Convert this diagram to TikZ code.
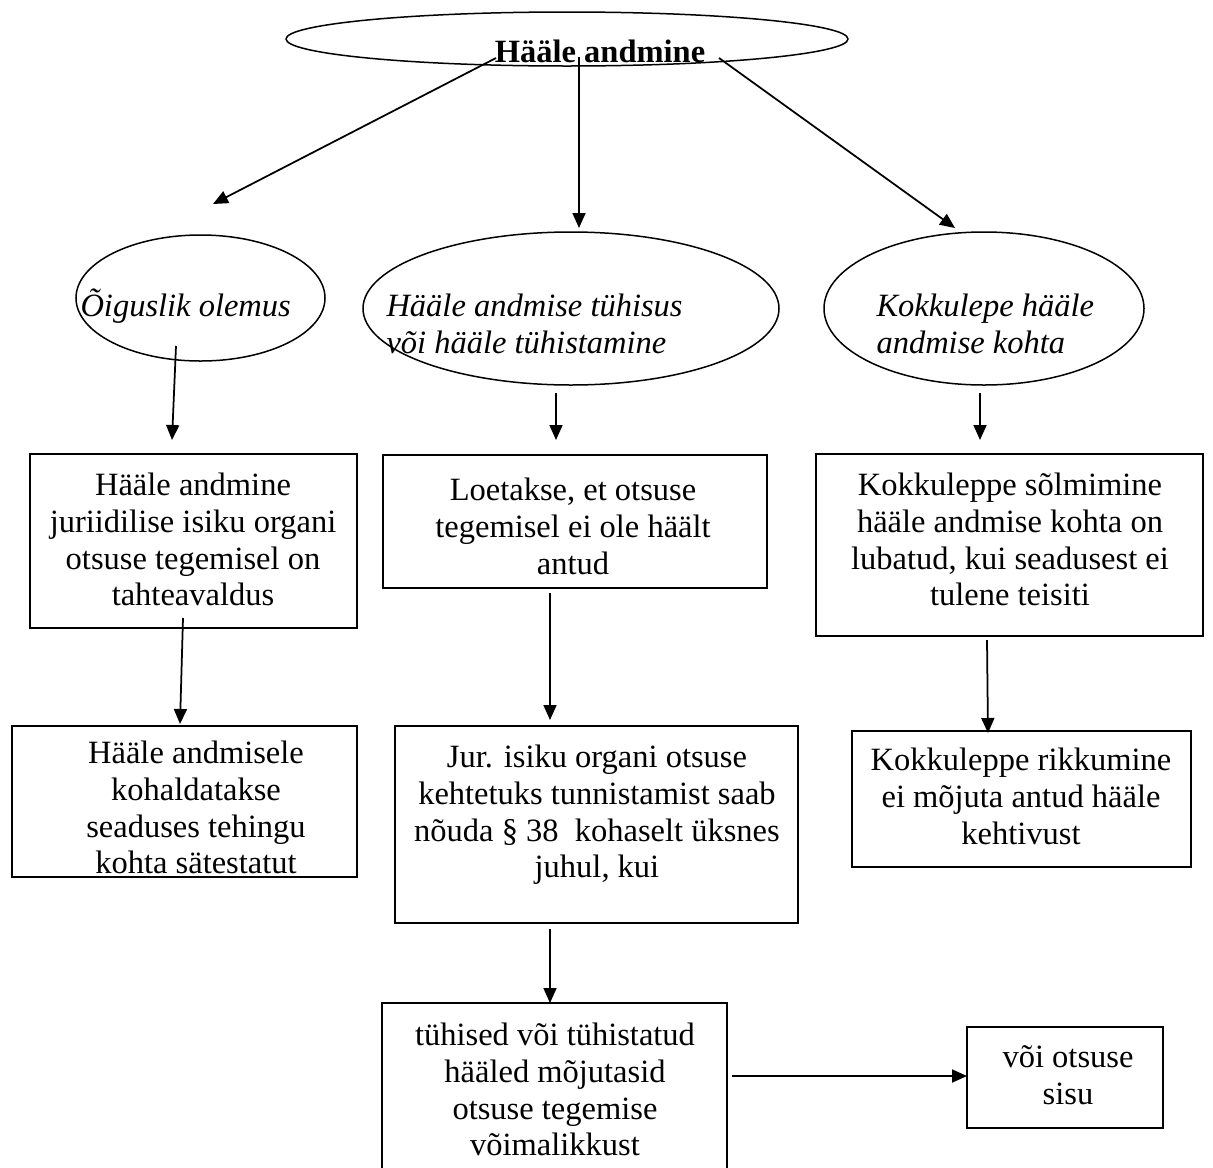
\documentclass[tikz,border=0pt]{standalone}
\usepackage{fontspec}
\setmainfont{Liberation Serif}
\usetikzlibrary{arrows.meta,shapes.geometric,calc}
% tall invisible rule so the first line of every label has a fixed height
\newcommand\firstline{\rule{0pt}{12pt}}

\begin{document}
\begin{tikzpicture}[x=0.4pt,y=-0.4pt,
  oval/.style={draw,ellipse,line width=0.6pt,inner sep=0pt},
  box/.style={draw,rectangle,line width=0.8pt,inner sep=0pt},
  txt/.style={font=\fontsize{13}{14.7}\selectfont,align=center,inner sep=0pt,anchor=north},
  itxt/.style={font=\fontsize{13}{14.7}\selectfont\itshape,align=left,inner sep=0pt,anchor=north west},
  link/.style={line width=0.7pt,-{Triangle[length=6pt,width=5.2pt]}}]

\useasboundingbox (0,0) rectangle (1213,1167);

% ---- ellipses ----
\node[oval,minimum width=224.8pt,minimum height=21.6pt] (top) at (567,39) {};
\node[oval,minimum width=99.6pt,minimum height=50.4pt] (e1) at (200.5,298) {};
\node[oval,minimum width=166.4pt,minimum height=61.2pt] (e2) at (571,308.5) {};
\node[oval,minimum width=128pt,minimum height=61.2pt] (e3) at (984,308.5) {};

% ---- boxes ----
\node[box,minimum width=130.8pt,minimum height=69.6pt] (b1) at (193.5,541) {};
\node[box,minimum width=153.6pt,minimum height=53.2pt] (b2) at (575,521.5) {};
\node[box,minimum width=154.8pt,minimum height=72.8pt] (b3) at (1009.5,545) {};
\node[box,minimum width=138pt,minimum height=60.4pt] (b4) at (184.5,801.5) {};
\node[box,minimum width=161.2pt,minimum height=78.8pt] (b5) at (596.5,824.5) {};
\node[box,minimum width=135.6pt,minimum height=54.4pt] (b6) at (1021.5,799) {};
\node[box,minimum width=138pt,minimum height=68.8pt] (b7) at (554.5,1089) {};
\node[box,minimum width=78.4pt,minimum height=40.4pt] (b8) at (1065,1077.5) {};

% ---- labels ----
\node[txt,font=\fontsize{13}{14.7}\selectfont\bfseries] (t0) at (600,32) {\firstline Hääle andmine};
\node[itxt] (te1) at (80,286) {\firstline Õiguslik olemus};
\node[itxt] (te2) at (386,286) {\firstline Hääle andmise tühisus\\või hääle tühistamine};
\node[itxt] (te3) at (876,286) {\firstline Kokkulepe hääle\\andmise kohta};

\node[txt] (t1) at (193,465) {\firstline Hääle andmine\\juriidilise isiku organi\\otsuse tegemisel on\\tahteavaldus};
\node[txt] (t2) at (573,470) {\firstline Loetakse, et otsuse\\tegemisel ei ole häält\\antud};
\node[txt] (t3) at (1010,465) {\firstline Kokkuleppe sõlmimine\\hääle andmise kohta on\\lubatud, kui seadusest ei\\tulene teisiti};
\node[txt] (t4) at (196,733) {\firstline Hääle andmisele\\kohaldatakse\\seaduses tehingu\\kohta sätestatut};
\node[txt] (t5) at (597,737) {\firstline Jur. isiku organi otsuse\\kehtetuks tunnistamist saab\\nõuda § 38~ kohaselt üksnes\\juhul, kui};
\node[txt] (t6) at (1021,740) {\firstline Kokkuleppe rikkumine\\ei mõjuta antud hääle\\kehtivust};
\node[txt] (t7) at (555,1015) {\firstline tühised või tühistatud\\hääled mõjutasid\\otsuse tegemise\\võimalikkust};
\node[txt] (t8) at (1068,1037) {\firstline või otsuse\\sisu};

% ---- connectors ----
\draw[link] ($(top.center)+(-71,19)$) -- ($(e1.center)+(12.5,-94)$);
\draw[link] ($(top.center)+(12,18)$) -- ($(e2.center)+(8,-80.5)$);
\draw[link] ($(top.center)+(152,19)$) -- ($(e3.center)+(-29,-80.5)$);

\draw[link] ($(e1.center)+(-24.5,48)$) -- ($(b1.center)+(-21.5,-101)$);
\draw[link] ($(e2.center)+(-15,84.5)$) -- ($(b2.center)+(-19,-81.5)$);
\draw[link] ($(e3.center)+(-4,84.5)$) -- ($(b3.center)+(-29.5,-105)$);

\draw[link] ($(b1.center)+(-10.5,77)$) -- ($(b4.center)+(-4.5,-77.5)$);
\draw[link] ($(b2.center)+(-25,71.5)$) -- ($(b5.center)+(-46.5,-104.5)$);
\draw[link] ($(b3.center)+(-22.5,95)$) -- ($(b6.center)+(-33.5,-66)$);

\draw[link] ($(b5.center)+(-46.5,104.5)$) -- ($(b7.center)+(-4.5,-86)$);
\draw[link] ($(b7.center)+(177.5,-13)$) -- ($(b8.center)+(-98,-1.5)$);
\end{tikzpicture}
\end{document}
